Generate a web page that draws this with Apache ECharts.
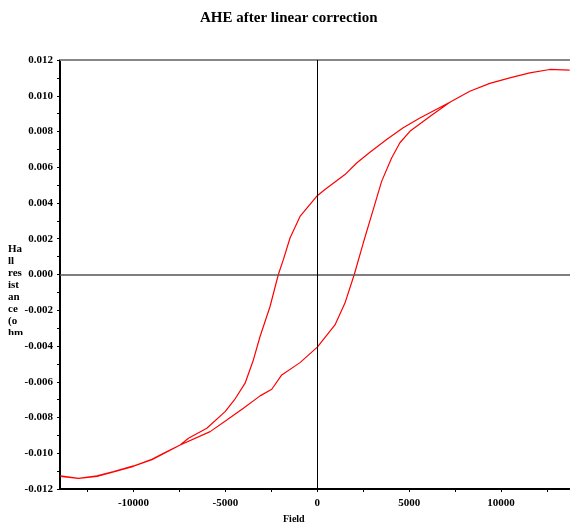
<!DOCTYPE html>
<html>
<head>
<meta charset="utf-8">
<script src="https://cdn.jsdelivr.net/npm/echarts@6/dist/echarts.min.js"></script>
<style>html,body{margin:0;padding:0;background:#fff}#c{width:570px;height:527px}</style>
</head>
<body>
<div id="c"></div>
<script>
// Ascending branch (field sweep from negative to positive)
var ascField = [-13984,-12989,-11989,-11087,-10000,-9000,-8370,-7462,-5832,-4924,-4022,-3114,-2478,-1935,-940,0,962,1505,2011,2500,3043,3500,4043,4495,5038,6200,7212,8299,9386,10473,11560,12647,13733];
var ascHall  = [-0.01127,-0.01140,-0.01127,-0.01103,-0.01071,-0.01034,-0.01000,-0.00954,-0.00879,-0.00814,-0.00748,-0.00679,-0.00642,-0.00562,-0.00493,-0.00406,-0.00282,-0.00160,0.00000,0.00176,0.00363,0.00521,0.00652,0.00737,0.00801,0.00890,0.00964,0.01025,0.01069,0.01100,0.01128,0.01147,0.01143];
// Descending branch (field sweep from positive to negative)
var descField = [13733,12647,11560,10473,9386,8299,7212,5582,4674,3772,2864,2141,1505,418,0,-940,-1484,-1848,-2120,-2571,-3114,-3478,-3929,-4511,-5016,-6011,-7011,-7462,-8370,-9000,-10000,-11087,-11989,-12989,-13984];
var descHall  = [0.01143,0.01147,0.01128,0.01100,0.01069,0.01025,0.00964,0.00876,0.00821,0.00755,0.00684,0.00624,0.00559,0.00475,0.00441,0.00325,0.00204,0.00083,0.00000,-0.00179,-0.00347,-0.00478,-0.00608,-0.00702,-0.00767,-0.00860,-0.00916,-0.00954,-0.01002,-0.01036,-0.01073,-0.01105,-0.01129,-0.01141,-0.01129];
var xLabelValues = [-10000,-5000,0,5000,10000];
var xTickValues = [-12500,-10000,-7500,-5000,-2500,0,2500,5000,7500,10000,12500];

var loop = [];
for (var i = 0; i < ascField.length; i++) loop.push([ascField[i], ascHall[i]]);
for (var j = 0; j < descField.length; j++) loop.push([descField[j], descHall[j]]);

var font = 'Liberation Serif';
var chart = echarts.init(document.getElementById('c'), null, {renderer: 'canvas'});
chart.setOption({
  animation: false,
  backgroundColor: '#fff',
  title: {
    text: 'AHE after linear correction',
    left: 195, top: 6,
    textStyle: {fontFamily: font, fontWeight: 'bold', fontSize: 15, color: '#000'}
  },
  grid: {left: 60, right: 0, top: 60, bottom: 38},
  xAxis: [{
    type: 'value', min: -14000, max: 13750, position: 'bottom',
    axisLine: {show: true, onZero: false, lineStyle: {color: '#000', width: 2}},
    axisTick: {show: true, customValues: xTickValues, length: 3, lineStyle: {color: '#000'}},
    axisLabel: {
      customValues: xLabelValues, fontFamily: font, fontWeight: 'bold', fontSize: 11, color: '#000', margin: 9,
      formatter: function (v) { return String(v); }
    },
    splitLine: {show: false}
  }, {
    type: 'value', min: -14000, max: 13750, position: 'top',
    axisLine: {show: true, onZero: false, lineStyle: {color: '#888', width: 2}},
    axisTick: {show: false}, axisLabel: {show: false}, splitLine: {show: false}
  }],
  yAxis: {
    type: 'value', min: -0.012, max: 0.012, interval: 0.002,
    axisLine: {show: true, onZero: false, lineStyle: {color: '#000', width: 2}},
    axisTick: {show: true, length: 3, lineStyle: {color: '#000'}},
    minorTick: {show: true, splitNumber: 2, length: 3, lineStyle: {color: '#000'}},
    axisLabel: {
      fontFamily: font, fontWeight: 'bold', fontSize: 11, color: '#000', margin: 7,
      formatter: function (v) { return v.toFixed(3); }
    },
    splitLine: {show: false}
  },
  series: [{
    type: 'line',
    data: loop,
    showSymbol: false,
    smooth: false,
    lineStyle: {color: '#ff0000', width: 1.2},
    markLine: {
      silent: true, symbol: 'none', label: {show: false},
      data: [
        {yAxis: 0, lineStyle: {color: '#555', width: 1.5, type: 'solid'}},
        {xAxis: 0, lineStyle: {color: '#000', width: 1, type: 'solid'}}
      ]
    },
    z: 3
  }],
  graphic: [
    {type: 'text', left: 8, top: 243, style: {text: 'Ha\nll\nres\nist\nan\nce\n(o\nhm', font: 'bold 11px "Liberation Serif"', lineHeight: 12, fill: '#000'}},
    {type: 'rect', shape: {x: 0, y: 335, width: 40, height: 20}, style: {fill: '#fff'}},
    {type: 'text', left: 283, top: 514, style: {text: 'Field', font: 'bold 10px "Liberation Serif"', fill: '#000'}}
  ]
});
</script>
</body>
</html>
